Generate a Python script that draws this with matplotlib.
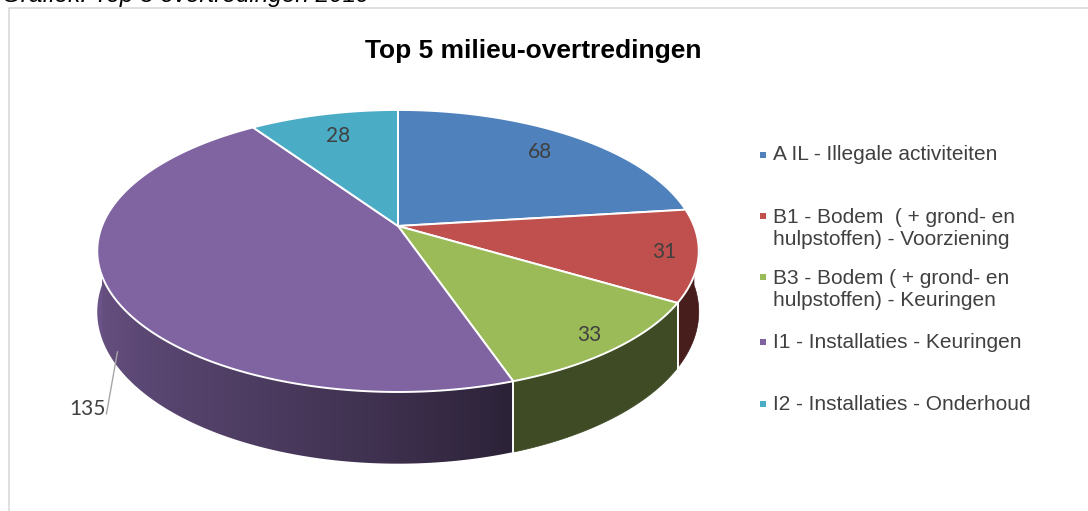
import numpy as np
import matplotlib
matplotlib.use("Agg")
import matplotlib.pyplot as plt
from matplotlib.patches import Polygon, Rectangle
from matplotlib.colors import to_rgb

# ---------------- data ----------------
categories = ["A IL - Illegale activiteiten",
              "B1 - Bodem  ( + grond- en\nhulpstoffen) - Voorziening",
              "B3 - Bodem ( + grond- en\nhulpstoffen) - Keuringen",
              "I1 - Installaties - Keuringen",
              "I2 - Installaties - Onderhoud"]
values = [68, 31, 33, 135, 28]
colors = ["#4F81BD", "#C0504D", "#9BBB59", "#8064A2", "#4BACC6"]
title = "Top 5 milieu-overtredingen"
caption = "Grafiek: Top 5 overtredingen 2019"

# ---------------- layout / style ----------------
W, H = 1088, 511
label_r = [0.80, 0.89, 0.90, None, 0.78]     # None -> outside label with leader
legend_y = [155, 228.5, 289.5, 342, 404]      # block centres of legend entries
legend_first_line = [155, 216, 277, 342, 404]
txt_col = "#404040"

fig = plt.figure(figsize=(W / 100, H / 100), dpi=100)
ax = fig.add_axes([0, 0, 1, 1])
ax.set_xlim(0, W)
ax.set_ylim(H, 0)
ax.axis("off")

# chart frame
ax.plot([8.5, 8.5, W + 5], [H + 5, 8.5, 8.5], color="#d9d9d9", lw=1.2, zorder=0)

# caption (mostly cut off at the top)
ax.text(2, 2, caption, fontsize=17.5, style="italic", family="Liberation Sans",
        color="black", ha="left", va="baseline", zorder=5)

# title
ax.text(533.5, 58, title, fontsize=19, fontweight="bold", family="Liberation Sans",
        color="black", ha="center", va="baseline")

# ---------------- 3D pie geometry ----------------
cx, cy = 398, 226
sx, sy = 296, 136.6
a = 0.177
depth = 59


def proj(t_deg, drop=0.0):
    t = np.radians(t_deg)
    X, Y = np.cos(t), np.sin(t)
    f = 1.0 / (1.0 + a * Y)
    return cx + sx * X * f, cy - sy * Y * f + drop * f


total = float(sum(values))
starts, ends = [], []
ang = 90.0
for v in values:
    starts.append(ang)
    ang -= 360.0 * v / total
    ends.append(ang)

# side shading factors (as a function of the angle on the rim)
shade_grad = {3: ([-180, -150, -115, -90, -71], [0.86, 0.76, 0.61, 0.47, 0.34])}
shade_const = {0: 0.40, 1: 0.37, 2: 0.40, 4: 0.40}

vis_lo, vis_hi = -180.0, 0.0
for i, (s, e) in enumerate(zip(starts, ends)):
    base = np.array(to_rgb(colors[i]))
    for shift in (-360, 0, 360):
        lo = max(e + shift, vis_lo)
        hi = min(s + shift, vis_hi)
        if lo >= hi:
            continue
        ts = np.linspace(lo, hi, max(int((hi - lo) * 3), 2) + 1)
        top = [proj(t) for t in ts]
        bot = [proj(t, depth) for t in ts[::-1]]
        pts = top + bot
        if i in shade_grad:
            poly = Polygon(pts, closed=True, facecolor="none", edgecolor="none", zorder=1)
            ax.add_patch(poly)
            xs = np.array([p[0] for p in top])
            order = np.argsort(xs)
            x0, x1 = xs.min() - 2, xs.max() + 2
            gx = np.linspace(x0, x1, 600)
            tg = np.interp(gx, xs[order], ts[order])
            fct = np.interp(tg, *shade_grad[i])
            img = (base[None, :] * fct[:, None])[None, :, :]
            ys = [p[1] for p in pts]
            im = ax.imshow(img, extent=(x0, x1, max(ys) + 2, min(ys) - 2),
                           aspect="auto", interpolation="bilinear", zorder=1)
            im.set_clip_path(poly)
        else:
            col = tuple(base * shade_const[i])
            ax.add_patch(Polygon(pts, closed=True, facecolor=col, edgecolor=col,
                                 lw=0.5, zorder=1))

ax.set_xlim(0, W)
ax.set_ylim(H, 0)

# white vertical edges on the side at slice boundaries
for b in starts:
    bb = ((b + 180) % 360) - 180
    if -169.8 < bb < -10.2:
        xt, yt = proj(bb)
        xb, yb = proj(bb, depth)
        ax.plot([xt, xb], [yt, yb], color="white", lw=1.4, zorder=1.5)

# top faces
for i, (s, e) in enumerate(zip(starts, ends)):
    ts = np.linspace(s, e, max(int(abs(s - e) * 2), 2) + 1)
    pts = [(cx, cy)] + [proj(t) for t in ts]
    ax.add_patch(Polygon(pts, closed=True, facecolor=colors[i], edgecolor="white",
                         lw=1.4, joinstyle="round", zorder=2))

# data labels
for i, (s, e) in enumerate(zip(starts, ends)):
    mid = 0.5 * (s + e)
    if label_r[i] is not None:
        t = np.radians(mid)
        X, Y = label_r[i] * np.cos(t), label_r[i] * np.sin(t)
        f = 1.0 / (1.0 + a * Y)
        lx, ly = cx + sx * X * f, cy - sy * Y * f
        ax.text(lx, ly, str(values[i]), fontsize=15, family="Lato", color=txt_col,
                ha="center", va="center", zorder=4)
    else:
        axp, ayp = proj(mid, depth * 0.93)
        axp += 7
        lx, ly = axp - 30, ayp + 57
        ax.plot([lx + 19, axp], [ly + 5, ayp], color="#a6a6a6", lw=1.0, zorder=3)
        ax.text(lx, ly, str(values[i]), fontsize=15, family="Lato", color=txt_col,
                ha="center", va="center", zorder=4)

# legend
for i, cat in enumerate(categories):
    ax.add_patch(Rectangle((759.5, legend_first_line[i] - 3), 6, 6,
                           facecolor=colors[i], edgecolor="none", zorder=4))
    ax.text(773, legend_y[i], cat, fontsize=15, family="Liberation Sans", color=txt_col,
            ha="left", va="center", linespacing=1.2, zorder=4)

fig.savefig("out.png", dpi=100)
